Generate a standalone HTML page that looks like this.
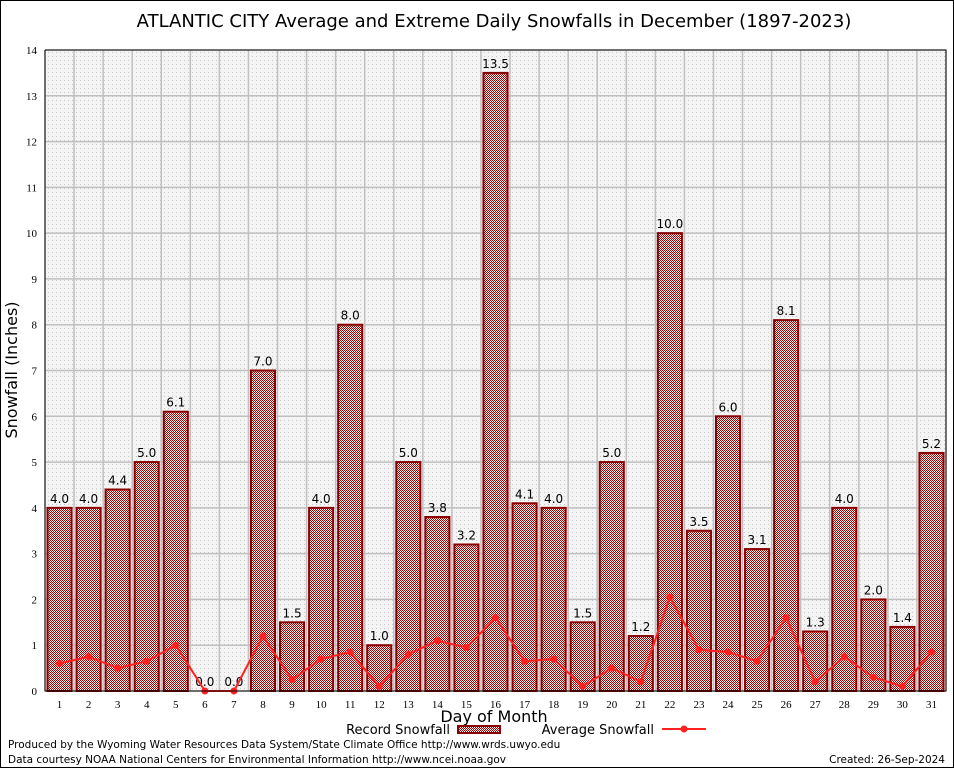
<!DOCTYPE html>
<html><head><meta charset="utf-8"><style>
body{margin:0;background:#fff;}
svg{display:block;font-family:"DejaVu Sans","Liberation Sans",sans-serif;}
</style></head><body>
<svg id="chart" width="954" height="768" viewBox="0 0 954 768">
<defs>
<pattern id="chk" width="2" height="2" patternUnits="userSpaceOnUse"><rect width="2" height="2" fill="#fff0f0"/><rect width="1" height="1" fill="#a00000"/><rect x="1" y="1" width="1" height="1" fill="#a00000"/></pattern>
<pattern id="dots" width="4" height="4" patternUnits="userSpaceOnUse"><rect width="4" height="4" fill="#f4f4f4"/><rect width="1" height="1" fill="#c8c8c8"/></pattern>
</defs>
<rect x="0.5" y="0.5" width="953" height="767" fill="#fff" stroke="#000"/>
<text x="494" y="27" font-size="18" text-anchor="middle">ATLANTIC CITY Average and Extreme Daily Snowfalls in December (1897-2023)</text>
<rect x="45" y="50" width="901" height="641" fill="url(#dots)"/>
<g id="grid"></g>
<g id="bars"></g>
<g id="avg"></g>
<g id="axes"></g>
<text x="17" y="370" font-size="16" text-anchor="middle" transform="rotate(-90 17 370)">Snowfall (Inches)</text>
<text x="494" y="722" font-size="16" text-anchor="middle">Day of Month</text>
<g><text x="450" y="734" font-size="13" text-anchor="end">Record Snowfall</text><rect x="458" y="726" width="42" height="7" fill="url(#chk)" stroke="#8b0000" stroke-width="2"/></g>
<g><text x="654" y="734" font-size="13" text-anchor="end">Average Snowfall</text><line x1="662" y1="729" x2="706" y2="729" stroke="#ff2020" stroke-width="2"/><circle cx="684" cy="729" r="3.5" fill="#ff2020"/></g>
<text x="8" y="748" font-size="10.5">Produced by the Wyoming Water Resources Data System/State Climate Office http://www.wrds.uwyo.edu</text>
<text x="8" y="763" font-size="10.5">Data courtesy NOAA National Centers for Environmental Information http://www.ncei.noaa.gov</text>
<text x="945" y="763" font-size="10.5" text-anchor="end">Created:  26-Sep-2024</text>
</svg>
<script>
const days=[1,2,3,4,5,6,7,8,9,10,11,12,13,14,15,16,17,18,19,20,21,22,23,24,25,26,27,28,29,30,31];
const recordValues=[4.0,4.0,4.4,5.0,6.1,0.0,0.0,7.0,1.5,4.0,8.0,1.0,5.0,3.8,3.2,13.5,4.1,4.0,1.5,5.0,1.2,10.0,3.5,6.0,3.1,8.1,1.3,4.0,2.0,1.4,5.2];
const averageValues=[0.6,0.75,0.5,0.65,1.0,0,0,1.2,0.25,0.7,0.85,0.1,0.8,1.1,0.95,1.6,0.65,0.7,0.1,0.5,0.2,2.05,0.9,0.85,0.65,1.6,0.2,0.75,0.3,0.1,0.85];
const yTicks=[0,1,2,3,4,5,6,7,8,9,10,11,12,13,14];
const NS="http://www.w3.org/2000/svg";
const X0=45,X1=946,Y0=691,Y1=50,YMAX=14;
const step=(X1-X0)/days.length;
const xC=d=>X0+(d-0.5)*step;
const yS=v=>Y0-(v/YMAX)*(Y0-Y1);
function mk(tag,attrs,parent,txt){const e=document.createElementNS(NS,tag);for(const k in attrs)e.setAttribute(k,attrs[k]);if(txt!==undefined)e.textContent=txt;parent.appendChild(e);return e;}
const grid=document.getElementById('grid'),bars=document.getElementById('bars'),avg=document.getElementById('avg'),axes=document.getElementById('axes');
yTicks.forEach(t=>{const y=yS(t);
 const l=mk('line',{x1:X0,x2:X1,y1:y,y2:y,stroke:'#c0c0c0','stroke-width':1.5},grid);
 
 
 const tx=mk('text',{x:X0-8,y:y+4,'font-size':11,'text-anchor':'end','font-family':'Liberation Serif,serif'},axes,String(t));
 
 
});
for(let i=0;i<=days.length;i++){const x=X0+i*step;
 const l=mk('line',{x1:x,x2:x,y1:Y1,y2:Y0,stroke:'#c0c0c0','stroke-width':1.5},grid);
 
 
}
days.forEach((d,i)=>{const v=recordValues[i];const x=xC(d),w=step-5;
 if(v>0){const r=mk('rect',{x:x-w/2,y:yS(v),width:w,height:Y0-yS(v),fill:'url(#chk)',stroke:'#8b0000','stroke-width':2},bars);
 
 }
 const t=mk('text',{x:x,y:yS(v)-5,'font-size':12,'text-anchor':'middle'},bars,v.toFixed(1));
 
 
 const tl=mk('text',{x:x,y:Y0+17,'font-size':11,'text-anchor':'middle','font-family':'Liberation Serif,serif'},axes,String(d));
 
 
});
const pts=days.map((d,i)=>xC(d)+','+yS(averageValues[i])).join(' ');
const pl=mk('polyline',{points:pts,fill:'none',stroke:'#ff2020','stroke-width':2},avg);


days.forEach((d,i)=>{const c=mk('circle',{cx:xC(d),cy:yS(averageValues[i]),r:3.5,fill:'#ff2020'},avg);
 
 });
const ax=mk('path',{d:`M${X0},${Y1} V${Y0} H${X1} V${Y1} H${X0}`,fill:'none',stroke:'#000','stroke-width':1},axes);


</script>
</body></html>
